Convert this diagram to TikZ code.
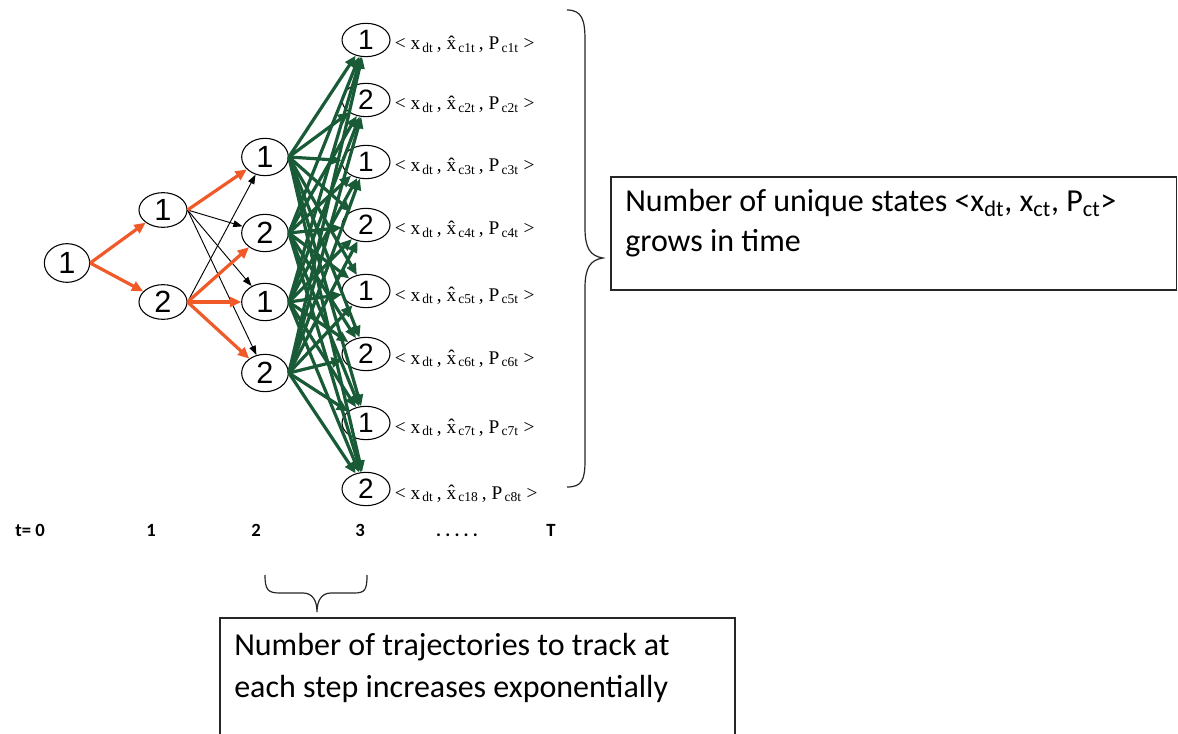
\documentclass[tikz,border=0pt]{standalone}
\usepackage{fontspec}
\setmainfont{Liberation Sans}
\newfontfamily\tms{Liberation Serif}
\newfontfamily\clb{Carlito}
\usetikzlibrary{arrows.meta,shapes.geometric}
\definecolor{orng}{RGB}{240,90,40}
\definecolor{grn}{RGB}{25,90,55}
\newcommand\stlab[2]{\textless\ x\textsubscript{\,dt}\,, \^{x}\textsubscript{\,#1}\,, P\textsubscript{\,#2}\ \textgreater}
\begin{document}
\begin{tikzpicture}[x=0.75pt,y=-0.75pt,
 st/.style={ellipse,draw=black,line width=0.8pt,fill=white,inner sep=0pt,font=\fontsize{23}{23}\selectfont},
 sA/.style={st,minimum width=34pt,minimum height=29pt},
 sB/.style={st,minimum width=36pt,minimum height=26pt},
 sC/.style={st,minimum width=35pt,minimum height=28pt},
 sD/.style={st,minimum width=36pt,minimum height=25pt,font=\fontsize{21}{21}\selectfont},
 oe/.style={draw=orng,line width=2.4pt,-{Triangle[length=8.5pt,width=7.5pt]}},
 be/.style={draw=black,line width=0.7pt,-{Triangle[length=7pt,width=5pt]}},
 ge/.style={draw=grn,line width=2.4pt,-{Triangle[length=8.5pt,width=7.5pt]}},
 lab/.style={anchor=base west,inner sep=0pt,font=\tms\fontsize{14.5}{14.5}\selectfont},
 tl/.style={anchor=base,inner sep=0pt,font=\clb\bfseries\fontsize{14}{14}\selectfont},
 bt/.style={anchor=base west,inner sep=0pt,font=\clb\fontsize{24}{24}\selectfont},
 brc/.style={draw=black!85,line width=0.9pt},
 box/.style={draw=black!85,line width=1pt}]
\useasboundingbox (0,0) rectangle (1178,734);
\fill[white] (0,0) rectangle (1178,734);
% nodes
\node[sA] (a) at (67,263) {1};
\node[sB] (b1) at (163,210) {1};
\node[sB] (b2) at (163,302) {2};
\node[sC] (c1) at (265,157) {1};
\node[sC] (c2) at (265,233) {2};
\node[sC] (c3) at (265,302) {1};
\node[sC] (c4) at (265,373) {2};
\node[sD] (d1) at (366,40) {1};
\node[sD] (d2) at (366,100) {2};
\node[sD] (d3) at (366,162) {1};
\node[sD] (d4) at (366,225) {2};
\node[sD] (d5) at (366,291) {1};
\node[sD] (d6) at (366,354) {2};
\node[sD] (d7) at (366,423) {1};
\node[sD] (d8) at (366,489) {2};
% edges
\draw[oe] (a.east) -- (b1);
\draw[oe] (a.east) -- (b2);
\draw[be] (b1.east) -- (c2);
\draw[be] (b1.east) -- (c3);
\draw[be] (b1.east) -- (c4);
\draw[be] (b2.east) -- (c1);
\draw[oe] (b1.east) -- (c1);
\draw[oe] (b2.east) -- (c2);
\draw[oe] (b2.east) -- (c3);
\draw[oe] (b2.east) -- (c4);
\foreach \i in {1,...,4}{\foreach \j in {1,...,8}{\draw[ge] (c\i.east) -- (d\j);}}
% labels
\node[lab] (l1) at ([shift={(4,10)}]d1.east) {\stlab{c1t}{c1t}};
\node[lab] (l2) at ([shift={(4,10)}]d2.east) {\stlab{c2t}{c2t}};
\node[lab] (l3) at ([shift={(4,10)}]d3.east) {\stlab{c3t}{c3t}};
\node[lab] (l4) at ([shift={(4,10)}]d4.east) {\stlab{c4t}{c4t}};
\node[lab] (l5) at ([shift={(4,10)}]d5.east) {\stlab{c5t}{c5t}};
\node[lab] (l6) at ([shift={(4,10)}]d6.east) {\stlab{c6t}{c6t}};
\node[lab] (l7) at ([shift={(4,10)}]d7.east) {\stlab{c7t}{c7t}};
\node[lab] (l8) at ([shift={(4,10)}]d8.east) {\stlab{c18}{c8t}};
% right brace
\draw[brc] (567,10) .. controls (582,10) and (585,20) .. (585,40) -- (585,228)
  .. controls (585,248) and (590,256) .. (603,258)
  .. controls (590,260) and (585,268) .. (585,288) -- (585,460)
  .. controls (585,480) and (582,487) .. (567,487);
% right box
\draw[box] (611,177) rectangle (1176.5,290);
\node[bt] (r1) at (625,212) {Number of unique states <x\textsubscript{dt}, x\textsubscript{ct}, P\textsubscript{ct}>};
\node[bt] (r2) at (625,252) {grows in time};
% time axis
\node[tl] (t0) at (30,536) {t=\ 0};
\node[tl] (t1) at (151,536) {1};
\node[tl] (t2) at (256,536) {2};
\node[tl] (t3) at (360,536) {3};
\node[tl] (td) at (457,536) {.\ .\ .\ .\ .};
\node[tl] (tT) at (551,536) {T};
% bottom brace
\draw[brc] (265,575) .. controls (265,590) and (268,593) .. (280,593) -- (303,593)
  .. controls (312,593) and (317,600) .. (317,612)
  .. controls (317,600) and (322,593) .. (331,593) -- (354,593)
  .. controls (365,593) and (367,590) .. (367,575);
% bottom box
\draw[box] (220,740) -- (220,618) -- (735,618) -- (735,740);
\node[bt] (s1) at (234,655) {Number of trajectories to track at};
\node[bt] (s2) at (234,697) {each step increases exponentially};
\end{tikzpicture}
\end{document}
